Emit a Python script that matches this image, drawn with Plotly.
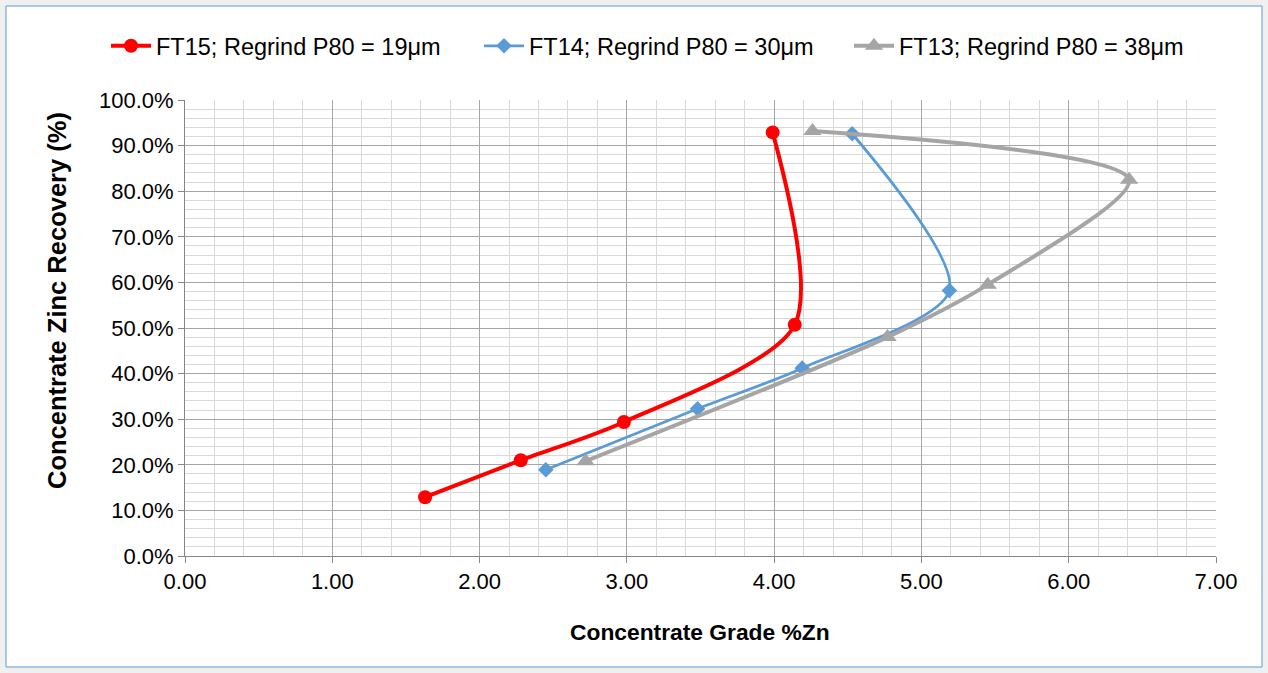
import plotly.graph_objects as go

# Data (x = Concentrate Grade %Zn, y = Zinc Recovery fraction)
ft15_grade = [1.63, 2.28, 2.98, 4.14, 3.99]
ft15_rec = [0.129, 0.210, 0.294, 0.507, 0.929]
ft14_grade = [2.45, 3.48, 4.19, 5.19, 4.53]
ft14_rec = [0.189, 0.323, 0.412, 0.582, 0.926]
ft13_grade = [2.72, 4.77, 5.45, 6.41, 4.26]
ft13_rec = [0.208, 0.480, 0.595, 0.825, 0.932]

names = ["FT15; Regrind P80 = 19μm", "FT14; Regrind P80 = 30μm", "FT13; Regrind P80 = 38μm"]
x_title = "Concentrate Grade %Zn"
y_title = "Concentrate Zinc Recovery (%)"

W, H = 1268, 673
L, R, T, B = 185, 52, 100, 117
pw, ph = W - L - R, H - T - B

FONT = "Liberation Sans"

fig = go.Figure()
fig.add_trace(go.Scatter(x=ft15_grade, y=ft15_rec, name=names[0], mode="lines+markers", legend="legend",
                         line=dict(color="#ff0000", width=4, shape="spline", smoothing=0.8),
                         marker=dict(symbol="circle", size=14, color="#ff0000")))
fig.add_trace(go.Scatter(x=ft14_grade, y=ft14_rec, name=names[1], mode="lines+markers", legend="legend2",
                         line=dict(color="#5b9bd5", width=2.75, shape="spline", smoothing=0.8),
                         marker=dict(symbol="diamond", size=12, color="#5b9bd5")))
fig.add_trace(go.Scatter(x=ft13_grade, y=ft13_rec, name=names[2], mode="lines+markers", legend="legend3",
                         line=dict(color="#a5a5a5", width=4, shape="spline", smoothing=0.8),
                         marker=dict(symbol="triangle-up", size=16, color="#a5a5a5")))


def px2paper_x(p):
    return (p - L) / pw


def px2paper_y(p):
    return (H - B - p) / ph


fig.add_shape(type="rect", xref="paper", yref="paper", layer="below",
              x0=px2paper_x(6), x1=px2paper_x(1262), y0=px2paper_y(667), y1=px2paper_y(6),
              fillcolor="white", line=dict(color="#5b9bd5", width=1))

fig.add_annotation(xref="paper", yref="paper", x=px2paper_x(57), y=px2paper_y(301),
                   text="<b>" + y_title + "</b>", textangle=-90, showarrow=False,
                   font=dict(family=FONT, size=25.5, color="#000000"),
                   xanchor="center", yanchor="middle")
fig.add_annotation(xref="paper", yref="paper", x=px2paper_x(700), y=px2paper_y(632),
                   text="<b>" + x_title + "</b>", showarrow=False,
                   font=dict(family=FONT, size=22.8, color="#000000"),
                   xanchor="center", yanchor="middle")


def leg(xpx):
    return dict(orientation="h", xref="container", yref="container", x=xpx / W, xanchor="left",
                y=1 - 46 / H, yanchor="middle", font=dict(family=FONT, size=23.5),
                bgcolor="rgba(0,0,0,0)", itemwidth=40)


fig.update_layout(
    width=W, height=H,
    margin=dict(l=L, r=R, t=T, b=B),
    paper_bgcolor="#f0f0f0",
    plot_bgcolor="white",
    font=dict(family=FONT, size=22, color="#000000"),
    showlegend=True,
    legend=leg(106), legend2=leg(479), legend3=leg(849),
    xaxis=dict(range=[0, 7], dtick=1, tickformat=".2f", showgrid=True, gridcolor="#a6a6a6", gridwidth=1,
               minor=dict(dtick=0.2, showgrid=True, gridcolor="#d9d9d9", gridwidth=1),
               showline=True, linecolor="#868686", linewidth=1, mirror=False,
               ticks="outside", ticklen=6, tickcolor="#868686", zeroline=False,
               tickfont=dict(family=FONT, size=22)),
    yaxis=dict(range=[0, 1], dtick=0.1, tickformat=".1%", showgrid=True, gridcolor="#a6a6a6", gridwidth=1,
               minor=dict(dtick=0.02, showgrid=True, gridcolor="#d9d9d9", gridwidth=1),
               showline=True, linecolor="#868686", linewidth=1,
               ticks="outside", ticklen=6, tickcolor="#868686", zeroline=False,
               tickfont=dict(family=FONT, size=22)),
)

fig.write_html("out.html", config={"displayModeBar": False},
               post_script="document.body.style.margin='0';document.body.style.overflow='hidden';")
